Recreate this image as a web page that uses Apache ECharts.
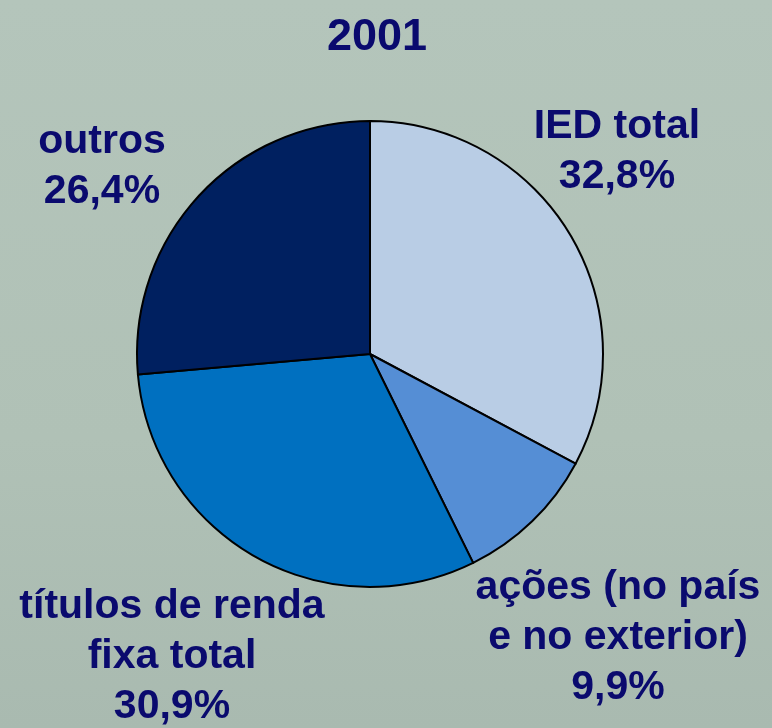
<!DOCTYPE html>
<html>
<head>
<meta charset="utf-8">
<script src="https://cdn.jsdelivr.net/npm/echarts@6/dist/echarts.min.js"></script>
<style>
  html, body { margin: 0; padding: 0; }
  #chart { width: 772px; height: 728px; }
</style>
</head>
<body>
<div id="chart"></div>
<script>
// dados
const titulo = '2001';
const categorias = ['IED total', 'ações (no país\ne no exterior)', 'títulos de renda\nfixa total', 'outros'];
const valores = [32.8, 9.9, 30.9, 26.4];
const cores = ['#b9cde5', '#558ed5', '#0070c0', '#002060'];

// posição dos rótulos (centro do bloco de texto)
const posRotulos = [[617, 152], [618, 638], [172, 657], [102, 167]];

let myChart = echarts.init(document.getElementById('chart'));
myChart.setOption({
  animation: false,
  backgroundColor: {
    type: 'linear', x: 0, y: 0, x2: 0, y2: 1,
    colorStops: [
      { offset: 0, color: '#b4c5bb' },
      { offset: 0.6, color: '#b0c1b6' },
      { offset: 1, color: '#a9bab0' }
    ]
  },
  title: {
    text: titulo,
    left: 322,
    top: 10,
    textStyle: {
      color: '#0a0a6e',
      fontFamily: 'Liberation Sans, Arial, sans-serif',
      fontWeight: 'bold',
      fontSize: 45
    }
  },
  color: cores,
  series: [
    {
      type: 'pie',
      center: [370, 354],
      radius: 233,
      startAngle: 90,
      clockwise: true,
      itemStyle: {
        borderColor: '#000',
        borderWidth: 2
      },
      emphasis: { disabled: true },
      labelLine: { show: false },
      label: {
        show: true,
        position: 'outside',
        overflow: 'none',
        color: '#0a0a6e',
        fontFamily: 'Liberation Sans, Arial, sans-serif',
        fontWeight: 'bold',
        fontSize: 41,
        lineHeight: 50,
        align: 'center',
        formatter: (p) => p.name + '\n' + String(p.value).replace('.', ',') + '%'
      },
      labelLayout: (p) => ({
        x: posRotulos[p.dataIndex][0],
        y: posRotulos[p.dataIndex][1],
        align: 'center',
        verticalAlign: 'middle',
        hideOverlap: false
      }),
      data: categorias.map((c, i) => ({ name: c, value: valores[i] }))
    }
  ]
});
window.onresize = myChart.resize;
</script>
</body>
</html>
